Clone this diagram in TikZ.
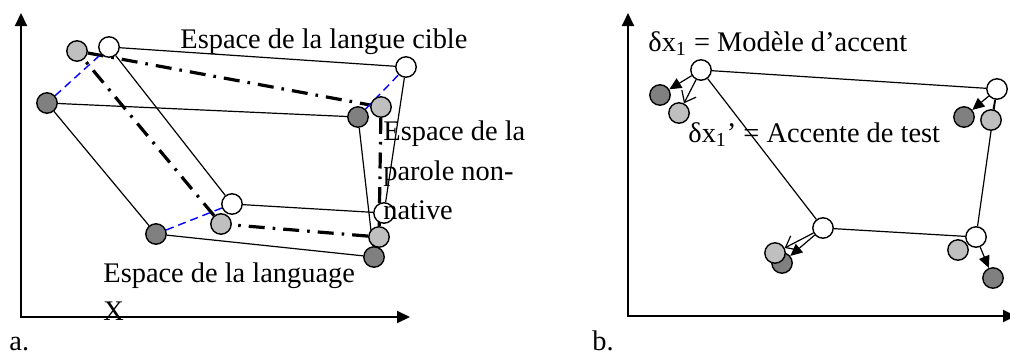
\documentclass[tikz,border=0pt]{standalone}
\usepackage{fontspec}
\setmainfont{Liberation Serif}
\usetikzlibrary{arrows.meta,backgrounds}
\begin{document}
\begin{tikzpicture}[x=0.5pt, y=-0.5pt,
  ptdot/.style={draw, circle, line width=0.7pt, minimum size=10.2pt, inner sep=0pt},
  wdot/.style={ptdot, fill=white},
  ldot/.style={ptdot, fill=black!25},
  ddot/.style={ptdot, fill=black!50},
  lbl/.style={anchor=base west, inner sep=0pt, font=\fontsize{14.2pt}{17pt}\selectfont},
  axisline/.style={line width=1pt, {Triangle[length=6.5pt,width=6pt]}-{Triangle[length=6.5pt,width=6pt]}},
  side/.style={line width=0.6pt},
  bluedash/.style={blue, line width=0.7pt, dash pattern=on 4pt off 2.5pt},
  dashdot/.style={line width=1.6pt, dash pattern=on 8pt off 4pt on 1.3pt off 4pt},
  fillarrow/.style={line width=0.6pt, -{Triangle[length=6pt,width=5.5pt]}},
  openarrow/.style={line width=0.6pt, -{Straight Barb[length=5pt,width=8pt]}}]
\useasboundingbox (0,0) rectangle (1010,354);
\coordinate (ay) at (21,13);
\coordinate (ax) at (410,317);
\coordinate (by) at (628,13);
\coordinate (bx) at (1016,316);
\draw[axisline] (ay) |- (ax);
\draw[axisline] (by) |- (bx);
\foreach \n/\x/\y in {1/109/47, 2/406/67, 3/232/204, 4/384/213} \node[wdot] (aw\n) at (\x,\y) {};
\foreach \n/\x/\y in {1/77/51, 2/381/107, 3/221/224, 4/379/237} \node[ldot] (al\n) at (\x,\y) {};
\foreach \n/\x/\y in {1/47/103, 2/358/117, 3/156/234, 4/374/257} \node[ddot] (ad\n) at (\x,\y) {};
\foreach \n/\x/\y in {1/660/95, 2/964/117, 3/782/263, 4/993/278} \node[ddot] (bd\n) at (\x,\y) {};
\foreach \n/\x/\y in {1/679/113, 2/991/120, 3/775/253, 4/958/250} \node[ldot] (bl\n) at (\x,\y) {};
\foreach \n/\x/\y in {1/701/70, 2/997/89, 3/823/228, 4/976/237} \node[wdot] (bw\n) at (\x,\y) {};
\begin{scope}[on background layer]
\draw[side] (aw1) -- (aw2) -- (aw4) -- (aw3) -- (aw1);
\draw[side] (ad1) -- (ad2) -- (ad4) -- (ad3) -- (ad1);
\draw[dashdot] (al1) -- (al2) -- (al4) -- (al3) -- (al1);
\foreach \n in {1,2,3} \draw[bluedash] (ad\n) -- (aw\n);
\draw[side] (bw1) -- (bw2) -- (bw4) -- (bw3) -- (bw1);
\end{scope}
\draw[fillarrow] (bw1) -- (bd1);
\draw[openarrow] (bw1) -- (bl1);
\draw[fillarrow] (bw2) -- (bd2);
\draw[side] (bw2) -- (bl2);
\draw[openarrow] (bw3) -- (bl3);
\draw[fillarrow] (bw3) -- (bd3);
\draw[fillarrow] (bw4) -- (bd4);
\node[lbl] (tcible) at (180,48) {Espace de la langue cible};
\node[lbl] (tnn1) at (383,140) {Espace de la};
\node[lbl] (tnn2) at (383,180) {parole non-};
\node[lbl] (tnn3) at (383,219) {native};
\node[lbl] (tlx1) at (103,282) {Espace de la language};
\node[lbl] (tlx2) at (103,320) {X};
\node[lbl] (ta) at (9,350) {a.};
\node[lbl] (tb) at (592,350) {b.};
\node[lbl] (tmod) at (648,51) {δx\textsubscript{1} = Modèle d’accent};
\node[lbl] (ttest) at (688,142) {δx\textsubscript{1}’ = Accente de test};
\end{tikzpicture}
\end{document}
